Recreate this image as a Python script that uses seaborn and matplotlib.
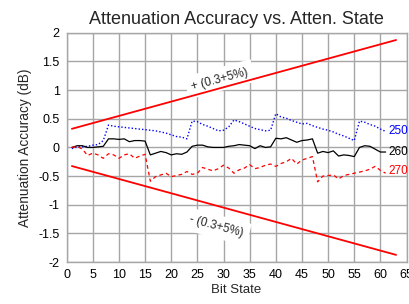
import numpy as np
import pandas as pd
import matplotlib
matplotlib.use("Agg")
import matplotlib.pyplot as plt
import seaborn as sns

# bit states
bit_state = list(range(1, 62))

# attenuation error (dB) per part
acc_250 = [-0.02, 0.01, 0.01, 0.02, 0.04, 0.05, 0.12, 0.39, 0.37, 0.36,
           0.35, 0.34, 0.33, 0.32, 0.31, 0.30, 0.29, 0.27, 0.25, 0.22,
           0.19, 0.18, 0.15, 0.46, 0.45, 0.40, 0.37, 0.33, 0.29, 0.30,
           0.36, 0.48, 0.45, 0.41, 0.37, 0.33, 0.31, 0.29, 0.30, 0.59,
           0.53, 0.51, 0.47, 0.44, 0.41, 0.42, 0.38, 0.35, 0.32, 0.30,
           0.27, 0.23, 0.20, 0.16, 0.12, 0.46, 0.44, 0.40, 0.37, 0.32,
           0.28]
acc_260 = [0.00, 0.03, 0.03, 0.00, 0.00, 0.01, 0.02, 0.15, 0.15, 0.14,
           0.15, 0.10, 0.12, 0.12, 0.11, -0.13, -0.10, -0.07, -0.09, -0.13,
           -0.11, -0.12, -0.08, 0.02, 0.04, 0.04, 0.01, 0.00, 0.00, 0.00,
           0.02, 0.03, 0.05, 0.04, 0.03, -0.02, 0.03, 0.00, 0.01, 0.16,
           0.15, 0.17, 0.13, 0.09, 0.12, 0.13, 0.15, -0.10, -0.07, -0.09,
           -0.06, -0.15, -0.13, -0.14, -0.16, 0.00, 0.03, 0.02, -0.03, -0.08,
           -0.08]
acc_270 = [0.00, 0.02, -0.03, -0.14, -0.10, -0.13, -0.19, -0.11, -0.13, -0.19,
           -0.13, -0.11, -0.19, -0.15, -0.12, -0.59, -0.51, -0.48, -0.45, -0.51,
           -0.49, -0.47, -0.42, -0.47, -0.45, -0.35, -0.38, -0.41, -0.37, -0.31,
           -0.36, -0.45, -0.39, -0.36, -0.30, -0.37, -0.35, -0.31, -0.29, -0.33,
           -0.28, -0.25, -0.19, -0.29, -0.22, -0.19, -0.16, -0.60, -0.50, -0.49,
           -0.48, -0.55, -0.49, -0.47, -0.45, -0.43, -0.41, -0.38, -0.33, -0.40,
           -0.45]

# spec limit +/-(0.3 dB + 5%)
limit_x = [1, 63]
limit_hi = [0.325, 1.875]
limit_lo = [-0.325, -1.875]

sns.set_style("white")
plt.rcParams['font.family'] = ['Liberation Sans', 'DejaVu Sans']

fig = plt.figure(figsize=(4.09, 3.04), dpi=100)
ax = fig.add_axes([0.163, 0.138, 0.831, 0.754])

grid_c = "#a6a6a6"
sns.lineplot(x=limit_x, y=limit_hi, color="#ff0000", lw=1.3, ax=ax)
sns.lineplot(x=limit_x, y=limit_lo, color="#ff0000", lw=1.3, ax=ax)
sns.lineplot(x=bit_state, y=acc_250, color="#0000ff", lw=1.0, ax=ax, linestyle=(0, (1, 1.5)))
sns.lineplot(x=bit_state, y=acc_260, color="black", lw=0.9, ax=ax)
sns.lineplot(x=bit_state, y=acc_270, color="#ff0000", lw=0.9, ax=ax, linestyle=(0, (3, 2.5)))

ax.set_xlim(0, 65)
ax.set_ylim(-2, 2)
ax.set_xticks(range(0, 66, 5))
ax.set_yticks(np.arange(-2, 2.01, 0.5))
ax.set_yticklabels(["-2", "-1.5", "-1", "-0.5", "0", "0.5", "1", "1.5", "2"])
ax.grid(True, color=grid_c, lw=1.0)
ax.set_axisbelow(True)
for s in ax.spines.values():
    s.set_color(grid_c)
    s.set_linewidth(1.0)
ax.tick_params(length=0, labelsize=9, pad=5, colors="black")

ax.set_title("Attenuation Accuracy vs. Atten. State", fontsize=13, pad=6)
ax.set_xlabel("Bit State", fontsize=9.5, labelpad=2)
ax.set_ylabel("Attenuation Accuracy (dB)", fontsize=9.8, labelpad=5)

# white boxes hide the grid but sit under the limit lines
ax.text(29.3, 1.19, "+ (0.3+5%)", rotation=15, fontsize=8.5, ha="center", va="center",
        zorder=1.5, bbox=dict(facecolor="white", edgecolor="none", pad=4))
ax.text(28.7, -1.38, "- (0.3+5%)", rotation=-15, fontsize=8.5, ha="center", va="center",
        zorder=1.5, bbox=dict(facecolor="white", edgecolor="none", pad=4))

ax.text(61.6, 0.28, "250", color="#0000ff", fontsize=8.5, va="center", clip_on=False)
ax.text(61.6, -0.08, "260", color="black", fontsize=8.5, va="center", clip_on=False)
ax.text(61.6, -0.41, "270", color="#ff0000", fontsize=8.5, va="center", clip_on=False)

fig.savefig("out.png", dpi=100)
